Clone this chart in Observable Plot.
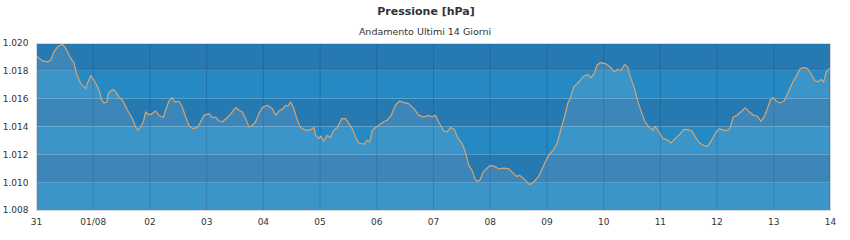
<!DOCTYPE html>
<html>
<head>
<meta charset="utf-8">
<script src="https://cdn.jsdelivr.net/npm/d3@7"></script>
<script src="https://cdn.jsdelivr.net/npm/@observablehq/plot@0.6"></script>
<style>
  html, body { margin: 0; padding: 0; background: #fff; }
  #wrap { position: relative; width: 850px; height: 240px; font-family: "DejaVu Sans", Verdana, sans-serif; }
  #title { position: absolute; left: 0; width: 852px; top: 5px; text-align: center; font-size: 11px; font-weight: bold; color: #333; }
  #subtitle { position: absolute; left: 0; width: 850px; top: 26px; text-align: center; font-size: 9.5px; color: #333; }
  #chart { position: absolute; left: 0; top: 0; }
</style>
</head>
<body>
<div id="wrap">
  <div id="chart"></div>
  <div id="title">Pressione [hPa]</div>
  <div id="subtitle">Andamento Ultimi 14 Giorni</div>
</div>
<script>
// hours since day "31" 00:00
const hours = [0,2.5,4.7,6.0,7.4,8.9,11.0,12.4,13.8,15.2,15.9,16.9,18.7,20.1,20.8,21.8,23.0,24.1,25.5,26.5,27.5,28.6,29.7,30.4,31.4,32.6,33.5,34.9,36.4,38.5,40.6,42.0,43.0,44.1,45.2,46.2,47.2,48.6,50.4,51.8,53.7,54.6,56.1,57.5,58.5,60.3,61.7,63.1,64.5,66.0,67.8,68.7,70.9,73.0,74.4,75.8,77.2,78.6,80.8,82.9,84.3,85.7,87.1,88.5,89.9,91.3,92.7,94.1,95.6,97.7,99.8,101.2,102.6,104.4,105.4,106.4,107.5,108.9,110.4,111.7,113.9,116.0,117.4,118.1,119.5,120.2,121.6,123.0,124.4,125.8,127.3,129.1,130.8,132.2,133.6,135.0,136.4,138.5,139.9,141.0,142.1,143.5,144.9,146.7,148.4,150.1,151.9,153.7,155.4,157.5,159.7,161.8,163.9,166.0,167.4,168.8,170.2,172.3,173.8,175.2,176.9,178.0,180.1,181.5,182.9,184.3,185.7,186.7,187.8,189.0,190.7,192.1,193.8,195.6,197.7,199.8,201.7,203.1,204.5,206.2,207.6,208.7,210.4,212.5,214.6,216.7,218.6,220.3,222.0,223.4,224.8,226.0,227.4,229.5,231.6,233.3,234.7,236.1,237.2,238.6,240.7,242.8,244.5,245.7,247.4,248.9,250.1,251.3,253.0,254.8,256.2,257.6,259.4,260.9,261.8,263.2,265.1,266.8,268.5,270.3,272.1,273.8,275.5,277.4,278.8,280.9,283.0,284.4,285.8,287.6,289.0,290.7,292.6,293.6,294.7,296.4,298.5,299.9,301.7,303.4,305.1,306.5,307.9,309.3,310.5,311.6,313.0,314.7,316.4,318.2,320.1,321.8,323.2,324.6,326.3,328.1,329.5,330.9,332.0,333.1,334.2,335.6];
const pressure = [1019.11,1018.75,1018.68,1018.8,1019.4,1019.76,1019.95,1019.64,1019.16,1018.75,1018.6,1017.84,1017.12,1016.88,1016.76,1017.24,1017.72,1017.41,1017.0,1016.64,1015.97,1015.73,1015.8,1016.4,1016.59,1016.69,1016.52,1016.16,1015.92,1015.2,1014.6,1014.0,1013.76,1014.0,1014.36,1015.08,1014.91,1014.91,1015.15,1014.84,1014.68,1015.2,1015.87,1016.12,1015.8,1015.85,1015.44,1014.72,1014.12,1013.88,1013.96,1014.12,1014.84,1014.96,1014.68,1014.72,1014.43,1014.36,1014.68,1015.08,1015.4,1015.2,1015.08,1014.6,1014.0,1014.12,1014.36,1014.96,1015.4,1015.56,1015.32,1014.84,1015.15,1015.32,1015.56,1015.49,1015.8,1015.32,1014.48,1013.96,1013.76,1013.81,1013.96,1013.4,1013.17,1013.35,1012.99,1013.4,1013.24,1013.76,1013.96,1014.6,1014.6,1014.24,1013.88,1013.28,1012.85,1012.76,1013.04,1012.92,1013.76,1013.96,1014.12,1014.36,1014.48,1014.84,1015.56,1015.87,1015.75,1015.68,1015.32,1014.84,1014.72,1014.84,1014.72,1014.84,1014.36,1013.71,1013.64,1013.96,1013.81,1013.28,1012.81,1012.2,1011.24,1010.88,1010.22,1010.09,1010.22,1010.76,1011.05,1011.24,1011.17,1011.0,1011.05,1011.0,1010.69,1010.45,1010.52,1010.29,1010.04,1009.85,1010.04,1010.45,1011.24,1011.96,1012.32,1012.81,1013.88,1014.68,1015.68,1016.12,1016.88,1017.24,1017.65,1017.77,1017.53,1017.88,1018.44,1018.63,1018.56,1018.32,1017.96,1018.13,1018.08,1018.49,1018.32,1017.6,1016.8,1015.66,1014.96,1014.36,1013.96,1013.76,1014.05,1013.71,1013.17,1013.09,1012.85,1013.17,1013.45,1013.81,1013.81,1013.71,1013.28,1012.81,1012.61,1012.68,1013.09,1013.64,1013.88,1013.76,1013.76,1013.96,1014.68,1014.84,1015.15,1015.37,1015.08,1014.84,1014.77,1014.41,1014.72,1015.32,1015.92,1016.12,1015.87,1015.73,1015.87,1016.52,1017.24,1017.72,1018.2,1018.27,1018.2,1017.72,1017.31,1017.24,1017.41,1017.24,1017.96,1018.2];

const dayLabels = ["31","01/08","02","03","04","05","06","07","08","09","10","11","12","13","14"];
const dayTicks = [0,24,48,72,96,120,144,168,192,216,240,264,288,312,336];
const yTicks = [1008,1010,1012,1014,1016,1018,1020];
const darkBands = [1010,1014,1018];
const lightBands = [1008,1012,1016];

const data = hours.map((h, i) => ({h, p: pressure[i]}));
const fmt = d3.format(",");

const chart = Plot.plot({
  width: 850,
  height: 240,
  marginTop: 43,
  marginBottom: 30,
  marginLeft: 36,
  marginRight: 20,
  style: {fontFamily: "DejaVu Sans, Verdana, sans-serif", fontSize: "9px", color: "#333", background: "transparent"},
  x: {domain: [0, 336]},
  y: {domain: [1008, 1020]},
  marks: [
    Plot.rect(darkBands, {y1: d => d, y2: d => d + 2, fill: "#2779b1"}),
    Plot.rect(lightBands, {y1: d => d, y2: d => d + 2, fill: "#2589c3"}),
    Plot.gridX(dayTicks, {stroke: "#1d5d92", strokeOpacity: 0.55, strokeWidth: 1}),
    Plot.areaY(data, {x: "h", y1: 1008, y2: "p", fill: "white", fillOpacity: 0.1}),
    Plot.lineY(data, {x: "h", y: "p", stroke: "#d6a56f", strokeWidth: 1.2}),
    Plot.frame({stroke: "#d8d8d8"}),
    Plot.axisX(dayTicks, {tickSize: 0, tickPadding: 8, tickFormat: (d, i) => dayLabels[dayTicks.indexOf(d)], label: null}),
    Plot.axisY(yTicks, {tickSize: 0, tickPadding: 8, tickFormat: d => fmt(d).replace(",", "."), label: null})
  ]
});
document.getElementById("chart").appendChild(chart);
</script>
</body>
</html>
